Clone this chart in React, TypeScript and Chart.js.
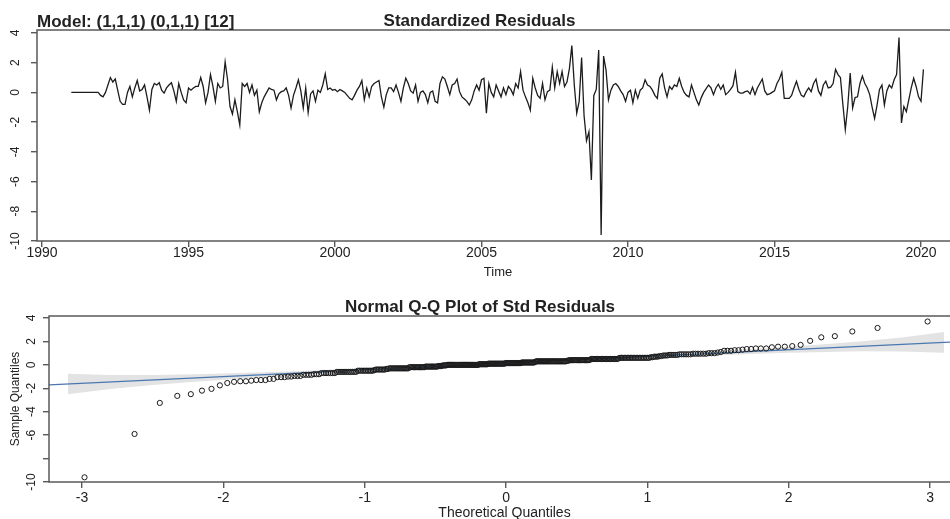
import React, { useEffect, useRef } from "react";
import { Chart, registerables } from "chart.js";

Chart.register(...registerables);

const FONT = "'Liberation Sans', Arial, Helvetica, sans-serif";
const TEXT_COLOR = "#222222";
const AXIS_COLOR = "#5a5a5a";

// ---------- data ----------
const START_YEAR = 1991; // first residual: January 1991, monthly
// standardized residuals, one row per year (Jan..Dec)
const RESIDUALS: number[] = [
  0, 0, 0, 0, 0, 0, 0, 0, 0, 0, 0, 0,
  -0.2, -0.3, 0, 0.5, 1.0, 0.7, 0.9, 0.15, -0.6, -0.8, -0.8, 0,
  0.4, -0.3, 0.3, 0.8, 0.1, 0.2, 0.5, -0.3, -1.2, 0.2, 0.6, 0.5,
  0.65, 0.15, -0.05, 0.3, 0.5, 0.65, 0.1, -0.6, 0.6, 0, -0.5, -0.7,
  0.3, 0.15, 0.3, 0.4, 0.4, 1.0, 0.4, -0.7, 0, 1.2, 0.4, -0.6,
  0.6, 0.3, 0.4, 2.05, 0.85, -0.95, -1.45, -0.5, -1.3, -2.2, 0.6, 0.4,
  0.6, 0, 0.5, -0.2, 0.15, -1.3, -0.7, -0.3, 0, 0.3, 0.2, 0.15,
  -0.5, -0.1, 0.05, 0.1, 0.3, -0.2, -1.05, -0.2, 0.3, 0.85, 0.1, -1.05,
  0.3, -1.35, -0.1, 0.1, -0.6, 0.15, 0, 0.5, 1.25, 0.2, 0.3, 0.15,
  0.2, 0.05, 0.2, 0.1, 0, -0.2, -0.4, -0.5, -0.2, 0.15, 0.4, 0.8,
  -0.5, 0.3, -0.3, 0.4, 0.6, 0.7, 0.8, -0.3, -1.0, -0.15, 0.3, 0.3,
  0.05, 0.5, 0, -0.6, 0.3, 0.95, 0.6, 0.1, -0.05, 0.5, -0.6, 0,
  0.1, -0.15, -0.7, 0, 0.1, -0.6, -0.7, 0.6, 1.05, 0.9, 0.4, -0.15,
  0.5, 0.6, 0.9, 0.05, -0.3, -0.45, -0.6, -0.85, -0.5, 0.1, 0.5, 0.15,
  0.85, 0.95, -1.4, 0.6, 0, -0.3, 0.5, 0.1, -0.3, 0.3, -0.15, 0.4,
  0.2, -0.15, 0.6, 0.3, 1.4, 0.15, -0.3, -0.7, -1.2, 0.95, 0.3, -0.2,
  -0.4, 0.6, -0.5, 0.05, 0.15, 1.7, 0.3, 1.4, 0.6, 1.4, 0.4, 0.7,
  1.6, 3.15, 0.5, -1.4, -0.6, 2.35, -1.55, -3.25, -2.65, -5.9, -0.2, 0.2,
  2.85, -9.6, 2.45, 1.5, -0.5, 0.15, 0.5, 0.6, 0.4, 0.1, -0.15, -0.6,
  0, 0.15, -0.7, 0.15, -0.4, 0.15, 0.3, 0.85, 0.5, 0.4, 0.15, -0.2,
  -0.4, 0.95, 1.25, 0.3, -0.3, 0.4, 0.2, 0.5, 0.4, 0.95, 0.4, 0,
  -0.2, -0.3, 0.5, 0, -0.5, -0.85, -0.35, 0, 0.25, 0.5, 0.3, -0.15,
  0.3, 0.55, 0.2, 0.5, -0.15, 0, 0.2, 0.45, 1.35, 0.05, -0.05, -0.05,
  0.05, 0.1, -0.1, 0.35, -0.15, 0.3, 0.6, 0.9, 0.1, -0.15, -0.1, 0,
  0.1, 0.6, 0.9, 1.35, -0.4, -0.4, -0.4, -0.2, 0.3, 0.75, 0.2, -0.2,
  -0.3, 0.05, 0.3, 0.05, 0.6, 0.9, 0.1, -0.2, 0.5, 0.75, 0.3, 0.35,
  0.6, 1.55, 1.2, 1.0, -0.8, -2.5, -0.95, 1.3, -1.05, -0.35, -0.3, 0.6,
  1.1, 0.6, 0.3, -0.15, -1.0, -1.75, -0.85, 0.2, 0.5, -0.85, 0.1, 0.5,
  0.3, 0.85, 1.2, 3.7, -2.05, -0.95, -1.3, -0.5, 0.3, 0.95, 0.4, -0.3,
  -0.6, 1.55,
];

const TIME_TICKS = [1990, 1995, 2000, 2005, 2010, 2015, 2020];
const RESID_TICKS = [-10, -8, -6, -4, -2, 0, 2, 4];
const QQ_X_TICKS = [-3, -2, -1, 0, 1, 2, 3];
const QQ_Y_TICKS = [-10, -8, -6, -4, -2, 0, 2, 4];
const QQ_Y_LABELS = ["-10", "", "-6", "-4", "-2", "0", "2", "4"];

// reference line of the Q-Q plot
const QQ_LINE_INTERCEPT = 0.14;
const QQ_LINE_SLOPE = 0.573;
// confidence band around the reference line (theoretical quantile, half width)
const BAND_Q = [-3.1, -2.8, -2.5, -2.2, -2.0, -1.5, -1.0, 0, 1.0, 1.5, 2.0, 2.2, 2.5, 2.8, 3.1];
const BAND_HALF = [0.88, 0.6, 0.42, 0.32, 0.26, 0.18, 0.14, 0.12, 0.14, 0.18, 0.26, 0.32, 0.42, 0.6, 0.88];

// ---------- helpers ----------
function qnorm(p: number): number {
  const a = [-39.69683028665376, 220.9460984245205, -275.9285104469687, 138.357751867269, -30.66479806614716, 2.506628277459239];
  const b = [-54.47609879822406, 161.5858368580409, -155.6989798598866, 66.80131188771972, -13.28068155288572];
  const c = [-0.007784894002430293, -0.3223964580411365, -2.400758277161838, -2.549671010228813, 4.374664141464968, 2.938163982698783];
  const d = [0.007784695709041462, 0.3224671290700398, 2.445134137142996, 3.754408661907416];
  const pl = 0.02425;
  if (p < pl) {
    const q = Math.sqrt(-2 * Math.log(p));
    return (((((c[0] * q + c[1]) * q + c[2]) * q + c[3]) * q + c[4]) * q + c[5]) / ((((d[0] * q + d[1]) * q + d[2]) * q + d[3]) * q + 1);
  }
  if (p <= 1 - pl) {
    const q = p - 0.5;
    const r = q * q;
    return ((((((a[0] * r + a[1]) * r + a[2]) * r + a[3]) * r + a[4]) * r + a[5]) * q) / (((((b[0] * r + b[1]) * r + b[2]) * r + b[3]) * r + b[4]) * r + 1);
  }
  const q = Math.sqrt(-2 * Math.log(1 - p));
  return -(((((c[0] * q + c[1]) * q + c[2]) * q + c[3]) * q + c[4]) * q + c[5]) / ((((d[0] * q + d[1]) * q + d[2]) * q + d[3]) * q + 1);
}

const framePlugin = {
  id: "frame",
  afterDraw(chart: any) {
    const { ctx, chartArea: a } = chart;
    ctx.save();
    ctx.strokeStyle = AXIS_COLOR;
    ctx.lineWidth = 1.5;
    ctx.strokeRect(a.left, a.top, a.right - a.left, a.bottom - a.top);
    ctx.restore();
  },
};

const gridOpts = {
  display: true,
  drawOnChartArea: false,
  drawTicks: true,
  tickLength: 6,
  color: AXIS_COLOR,
  lineWidth: 1.4,
};

export default function App() {
  const topRef = useRef<HTMLCanvasElement>(null);
  const botRef = useRef<HTMLCanvasElement>(null);

  useEffect(() => {
    Chart.defaults.font.family = FONT;
    Chart.defaults.color = TEXT_COLOR;

    const series = RESIDUALS.map((v, i) => ({ x: START_YEAR + i / 12, y: v }));

    const top = new Chart(topRef.current!, {
      type: "line",
      data: {
        datasets: [
          {
            data: series,
            borderColor: "#1c1c1c",
            borderWidth: 1.3,
            pointRadius: 0,
            tension: 0,
            fill: false,
          },
        ],
      },
      options: {
        animation: false,
        responsive: false,
        devicePixelRatio: 1,
        layout: { padding: { left: 0, right: 36, top: 0, bottom: 0 } },
        plugins: {
          legend: { display: false },
          tooltip: { enabled: false },
          title: {
            display: true,
            text: "Standardized Residuals",
            color: TEXT_COLOR,
            font: { family: FONT, size: 17, weight: "bold", lineHeight: 1 },
            padding: { top: 13, bottom: 0 },
          },
        },
        scales: {
          x: {
            type: "linear",
            min: 1989.829,
            max: 2021.297,
            afterFit: (s: any) => { s.height = 44; },
            afterBuildTicks: (s: any) => { s.ticks = TIME_TICKS.map((v) => ({ value: v })); },
            ticks: {
              callback: (v: any) => String(v),
              font: { family: FONT, size: 14 },
              color: TEXT_COLOR,
              padding: -2,
              maxRotation: 0,
              autoSkip: false,
            },
            grid: gridOpts,
            border: { display: false },
            title: {
              display: true,
              text: "Time",
              color: TEXT_COLOR,
              font: { family: FONT, size: 13 },
              padding: { top: 0, bottom: 5 },
            },
          },
          y: {
            type: "linear",
            min: -10,
            max: 4.2,
            afterFit: (s: any) => { s.width = 37; },
            afterBuildTicks: (s: any) => { s.ticks = RESID_TICKS.map((v) => ({ value: v })); },
            ticks: {
              callback: (v: any) => String(v),
              font: { family: FONT, size: 12 },
              color: TEXT_COLOR,
              minRotation: 90,
              maxRotation: 90,
              crossAlign: "center",
              padding: 7,
              autoSkip: false,
            },
            grid: gridOpts,
            border: { display: false },
          },
        },
      },
      plugins: [framePlugin],
    });

    // Q-Q data derived from the residuals
    const sorted = [...RESIDUALS].sort((a, b) => a - b);
    const n = sorted.length;
    const qqPoints = sorted.map((v, i) => ({ x: qnorm((i + 1 - 0.5) / n), y: v }));
    const xMin = -3.234;
    const xMax = 3.212;
    const lineFn = (q: number) => QQ_LINE_INTERCEPT + QQ_LINE_SLOPE * q;
    const upper = BAND_Q.map((q, i) => ({ x: q, y: lineFn(q) + BAND_HALF[i] }));
    const lower = BAND_Q.map((q, i) => ({ x: q, y: lineFn(q) - BAND_HALF[i] }));

    const bot = new Chart(botRef.current!, {
      type: "scatter",
      data: {
        datasets: [
          {
            type: "scatter",
            data: qqPoints,
            pointRadius: 2.6,
            pointBorderWidth: 1,
            borderColor: "#1a1a1a",
            backgroundColor: "rgba(0,0,0,0)",
          },
          {
            type: "line",
            data: [
              { x: xMin, y: lineFn(xMin) },
              { x: xMax, y: lineFn(xMax) },
            ],
            borderColor: "#4a77b0",
            borderWidth: 1.2,
            pointRadius: 0,
            fill: false,
          },
          {
            type: "line",
            data: upper,
            borderWidth: 0,
            borderColor: "rgba(0,0,0,0)",
            pointRadius: 0,
            fill: false,
          },
          {
            type: "line",
            data: lower,
            borderWidth: 0,
            borderColor: "rgba(0,0,0,0)",
            backgroundColor: "#e3e3e3",
            pointRadius: 0,
            fill: "-1",
          },
        ],
      },
      options: {
        animation: false,
        responsive: false,
        devicePixelRatio: 1,
        layout: { padding: { left: 0, right: 49, top: 0, bottom: 0 } },
        plugins: {
          legend: { display: false },
          tooltip: { enabled: false },
          title: {
            display: true,
            text: "Normal Q-Q Plot of Std Residuals",
            color: TEXT_COLOR,
            font: { family: FONT, size: 17, weight: "bold", lineHeight: 1 },
            padding: { top: 14, bottom: 0 },
          },
        },
        scales: {
          x: {
            type: "linear",
            min: xMin,
            max: xMax,
            afterFit: (s: any) => { s.height = 43; },
            afterBuildTicks: (s: any) => { s.ticks = QQ_X_TICKS.map((v) => ({ value: v })); },
            ticks: {
              callback: (v: any) => String(v),
              font: { family: FONT, size: 14 },
              color: TEXT_COLOR,
              padding: 2,
              maxRotation: 0,
              autoSkip: false,
            },
            grid: gridOpts,
            border: { display: false },
            title: {
              display: true,
              text: "Theoretical Quantiles",
              color: TEXT_COLOR,
              font: { family: FONT, size: 14 },
              padding: { top: 0, bottom: 3.6 },
            },
          },
          y: {
            type: "linear",
            min: -10,
            max: 4.17,
            afterFit: (s: any) => { s.width = 49; },
            afterBuildTicks: (s: any) => { s.ticks = QQ_Y_TICKS.map((v) => ({ value: v })); },
            ticks: {
              callback: (_v: any, i: number) => QQ_Y_LABELS[i],
              font: { family: FONT, size: 12 },
              color: TEXT_COLOR,
              minRotation: 90,
              maxRotation: 90,
              crossAlign: "center",
              padding: 2.3,
              autoSkip: false,
            },
            grid: gridOpts,
            border: { display: false },
            title: {
              display: true,
              text: "Sample Quantiles",
              color: TEXT_COLOR,
              font: { family: FONT, size: 12 },
              padding: { top: 8, bottom: 0 },
            },
          },
        },
      },
      plugins: [framePlugin],
    });

    return () => {
      top.destroy();
      bot.destroy();
    };
  }, []);

  return (
    <div
      style={{
        position: "absolute",
        left: 0,
        top: 0,
        width: 950,
        height: 519,
        overflow: "hidden",
        background: "#ffffff",
      }}
    >
      <canvas
        ref={topRef}
        width={995}
        height={285}
        style={{ position: "absolute", left: 0, top: 0, width: 995, height: 285 }}
      />
      <canvas
        ref={botRef}
        width={1009}
        height={240}
        style={{ position: "absolute", left: 0, top: 285, width: 1009, height: 240 }}
      />
      <div
        style={{
          position: "absolute",
          left: 37,
          top: 12,
          font: `bold 17px ${FONT}`,
          lineHeight: "20px",
          color: TEXT_COLOR,
          whiteSpace: "nowrap",
        }}
      >
        Model: (1,1,1) (0,1,1) [12]
      </div>
    </div>
  );
}
